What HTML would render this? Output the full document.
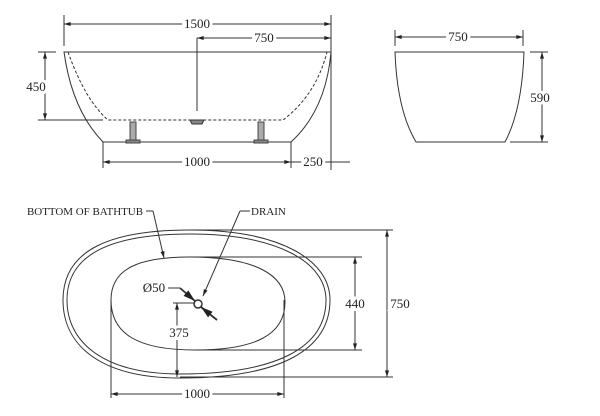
<!DOCTYPE html>
<html><head><style>body{margin:0;background:#fff}svg{display:block}text{font-family:"Liberation Serif",serif;fill:#222}</style></head><body>
<svg width="600" height="416" viewBox="0 0 600 416" xmlns="http://www.w3.org/2000/svg">
<defs><marker id="a" viewBox="0 0 10 6" refX="10" refY="3" markerWidth="8" markerHeight="4" orient="auto-start-reverse"><path d="M0,0L10,3L0,6z" fill="#222"/></marker></defs>
<g stroke="#333" stroke-width="1" fill="none">
<line x1="64" y1="15" x2="64" y2="46"/><line x1="331" y1="15" x2="331" y2="170"/>
<line x1="64" y1="24" x2="331" y2="24" marker-start="url(#a)" marker-end="url(#a)"/>
<line x1="197" y1="38" x2="331" y2="38" marker-start="url(#a)" marker-end="url(#a)"/>
<line x1="197" y1="38" x2="197" y2="111"/>
<path d="M64,52 L331,52 Q326,110 291,142 L103,142 Q72,110 64,52Z"/>
<path d="M68,52 Q85,100 108,120 L283,120 Q316,95 327,52" stroke-dasharray="3,2"/>
<line x1="38" y1="52" x2="56" y2="52"/><line x1="38" y1="120" x2="103" y2="120"/>
<line x1="45" y1="52" x2="45" y2="120" marker-start="url(#a)" marker-end="url(#a)"/>
<path d="M190,120 L204,120 L202,124 L192,124Z" fill="#888"/>
<g stroke="#444"><rect x="130" y="122" width="6" height="18" fill="#aaa"/><rect x="126" y="140" width="14" height="3" fill="#888"/>
<rect x="258" y="122" width="6" height="18" fill="#aaa"/><rect x="254" y="140" width="14" height="3" fill="#888"/></g>
<line x1="103" y1="142" x2="103" y2="168"/><line x1="291" y1="142" x2="291" y2="168"/>
<line x1="103" y1="162" x2="291" y2="162" marker-start="url(#a)" marker-end="url(#a)"/>
<line x1="291" y1="162" x2="350" y2="162"/>
<line x1="395" y1="30" x2="395" y2="46"/><line x1="523" y1="30" x2="523" y2="46"/>
<line x1="395" y1="37" x2="523" y2="37" marker-start="url(#a)" marker-end="url(#a)"/>
<path d="M395,52 L524,52 Q522,110 505,142 L416,142 Q397,110 395,52Z"/>
<line x1="530" y1="52" x2="548" y2="52"/><line x1="510" y1="142" x2="548" y2="142"/>
<line x1="542" y1="52" x2="542" y2="142" marker-start="url(#a)" marker-end="url(#a)"/>
<path d="M63,300 C63,250 110,230 190,230 C280,230 330,260 330,300 C330,350 280,378 180,378 C100,378 63,345 63,300Z"/>
<path d="M67,300 C67,254 112,234 190,234 C277,234 326,262 326,300 C326,347 278,374 180,374 C103,374 67,342 67,300Z"/>
<path d="M111,300 C111,268 140,257 190,257 C255,257 285,275 285,302 C285,335 255,350 195,350 C138,350 111,334 111,300Z"/>
<line x1="190" y1="257" x2="362" y2="257"/><line x1="195" y1="350" x2="362" y2="350"/>
<line x1="355" y1="257" x2="355" y2="350" marker-start="url(#a)" marker-end="url(#a)"/>
<line x1="190" y1="230" x2="393" y2="230"/><line x1="180" y1="377" x2="393" y2="377"/>
<line x1="387" y1="230" x2="387" y2="377" marker-start="url(#a)" marker-end="url(#a)"/>
<line x1="111" y1="300" x2="111" y2="398"/><line x1="284" y1="300" x2="284" y2="398"/>
<line x1="111" y1="394" x2="284" y2="394" marker-start="url(#a)" marker-end="url(#a)"/>
<line x1="173" y1="303" x2="195" y2="303"/>
<line x1="177" y1="303" x2="177" y2="377" marker-start="url(#a)" marker-end="url(#a)"/>
<circle cx="198" cy="304" r="4" stroke-width="1.5"/>
<line x1="168" y1="288" x2="180" y2="288"/>
<line x1="180" y1="288" x2="195" y2="301" stroke-width="1.8" marker-end="url(#a)"/>
<line x1="217" y1="320" x2="201" y2="307" stroke-width="1.8" marker-end="url(#a)"/>
<line x1="146" y1="211" x2="153" y2="211"/><line x1="153" y1="211" x2="164" y2="258" marker-end="url(#a)"/>
<line x1="250" y1="211" x2="240" y2="211"/><line x1="240" y1="211" x2="203" y2="296" marker-end="url(#a)"/>
</g>
<g font-size="13" text-anchor="middle">
<text x="197" y="28" style="paint-order:stroke" stroke="#fff" stroke-width="6">1500</text>
<text x="264" y="42" style="paint-order:stroke" stroke="#fff" stroke-width="6">750</text>
<text x="36" y="91" style="paint-order:stroke" stroke="#fff" stroke-width="6">450</text>
<text x="197" y="166" style="paint-order:stroke" stroke="#fff" stroke-width="6">1000</text>
<text x="313" y="166" style="paint-order:stroke" stroke="#fff" stroke-width="6">250</text>
<text x="458" y="41" style="paint-order:stroke" stroke="#fff" stroke-width="6">750</text>
<text x="540" y="102" style="paint-order:stroke" stroke="#fff" stroke-width="6">590</text>
<text x="355" y="308" style="paint-order:stroke" stroke="#fff" stroke-width="6">440</text>
<text x="400" y="308" style="paint-order:stroke" stroke="#fff" stroke-width="6">750</text>
<text x="197" y="398" style="paint-order:stroke" stroke="#fff" stroke-width="6">1000</text>
<text x="179" y="337" style="paint-order:stroke" stroke="#fff" stroke-width="6">375</text>
<text x="154" y="292">Ø50</text>
</g>
<g font-size="11"><text x="27" y="215" textLength="116" lengthAdjust="spacingAndGlyphs">BOTTOM OF BATHTUB</text><text x="251" y="215">DRAIN</text></g>
</svg></body></html>
